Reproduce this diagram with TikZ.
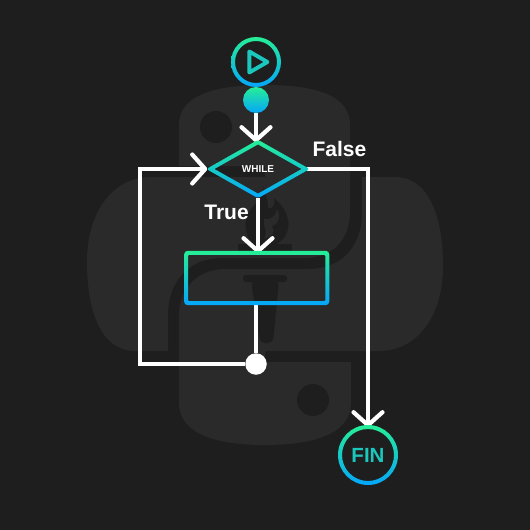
\documentclass[tikz,border=0pt]{standalone}
\usepackage{fontspec}
\setmainfont{Liberation Sans}
\usetikzlibrary{shapes.geometric,arrows.meta}
\definecolor{bgc}{HTML}{1E1E1E}
\definecolor{logoc}{HTML}{2A2A2A}
\definecolor{gtop}{HTML}{26EE96}
\definecolor{gbot}{HTML}{04A6FA}
\definecolor{tealc}{HTML}{1BC6BC}
\tikzset{
  grad/.style={top color=gtop,bottom color=gbot,even odd rule},
  logo/.style={fill=logoc,draw=none},
  hole/.style={fill=bgc,draw=none},
  flow/.style={draw=white,line width=4.2pt,line join=miter},
  arrowed/.style={flow,shorten >=-2.5pt,-{Straight Barb[length=13pt,width=29pt,line width=4.2pt,round]}},
  lab/.style={text=white,font=\fontsize{21}{21}\selectfont\bfseries,inner sep=0pt},
}
\begin{document}
\begin{tikzpicture}[x=1pt,y=-1pt]
\useasboundingbox (0,0) rectangle (530,530);
\fill[bgc] (0,0) rectangle (530,530);
% python logo, upper snake and left blob
\path[logo] (265,177) -- (150,177) .. controls (110,178) and (87,215) .. (87,262)
  .. controls (87,315) and (103,351) .. (135,351) -- (168,351) -- (168,315)
  .. controls (168,282) and (188,258) .. (222,258) -- (305,258)
  .. controls (332,258) and (350,240) .. (350,212) -- (350,125)
  .. controls (350,98) and (322,85) .. (265,85)
  .. controls (208,85) and (179,98) .. (179,125) -- (179,166) -- (265,166) -- cycle;
% lower snake and right blob
\path[logo] (265,351) -- (380,351) .. controls (420,350) and (443,313) .. (443,266)
  .. controls (443,213) and (427,177) .. (395,177) -- (362,177) -- (362,213)
  .. controls (362,246) and (342,269) .. (308,269) -- (225,269)
  .. controls (198,269) and (179,288) .. (179,316) -- (179,403)
  .. controls (179,430) and (208,445) .. (265,445)
  .. controls (322,445) and (351,430) .. (351,403) -- (351,362) -- (265,362) -- cycle;
\fill[hole] (216,127) circle (16);
\fill[hole] (313,400) circle (16);
% torch
\path[hole] (262,185) .. controls (268,195) and (254,203) .. (249,212)
  .. controls (243,222) and (245,236) .. (253,244) -- (277,244)
  .. controls (287,238) and (291,226) .. (287,216)
  .. controls (285,208) and (279,203) .. (274,198)
  .. controls (276,205) and (272,210) .. (268,208)
  .. controls (268,200) and (266,192) .. (262,185) -- cycle;
\path[logo] (277,209) .. controls (281,216) and (279,224) .. (272,226)
  .. controls (276,231) and (272,238) .. (264,238)
  .. controls (269,232) and (262,226) .. (264,219)
  .. controls (270,221) and (276,216) .. (277,209) -- cycle;
\fill[hole] (238,244) rectangle (292,252);
\fill[hole,rounded corners=3pt] (243,275) rectangle (287,282);
\path[hole,rounded corners=5pt] (251,280) -- (279,280) -- (273,343) -- (260,343) -- cycle;
% nodes
\node[circle,minimum size=50pt,inner sep=0pt] (start) at (256,62) {};
\node[circle,minimum size=26pt,inner sep=0pt,top color=gtop,bottom color=gbot] (dot) at (256,100) {};
\node[diamond,minimum width=103pt,minimum height=58pt,inner sep=0pt,text=white,
      font=\fontsize{10}{10}\selectfont\bfseries] (while) at (258,169) {WHILE};
\node[rectangle,minimum width=144.7pt,minimum height=54pt,inner sep=0pt] (box) at (256.7,278) {};
\node[circle,minimum size=21.5pt,inner sep=0pt,fill=white] (join) at (256,364) {};
\node[circle,minimum size=60pt,inner sep=0pt,text=tealc,
      font=\fontsize{20.5}{20.5}\selectfont\bfseries] (fin) at (368,455) {FIN};
\coordinate (loop) at (140.3,169);
\node[lab] (false) at (339.5,149) {False};
\node[lab] (true) at (226.5,212) {True};
% connectors
\draw[arrowed] (dot.south) -- (dot.south |- while.north);
\draw[arrowed] (while.south) -- (while.south |- box.north);
\draw[flow] (join |- box.south) -- (join.north);
\draw[arrowed,shorten >=-1pt] (join.west) -| (loop) -- (while.west);
\draw[arrowed,shorten <=-3pt] (while.east) -| (fin.north);
% gradient outlines
\shade[grad] (start) circle (25) (start) circle (21);
\draw[tealc,line width=3.9pt,line join=round] ([xshift=-6.7pt,yshift=10.5pt]start.center) -- ([xshift=11.4pt]start.center) -- ([xshift=-6.7pt,yshift=-10.5pt]start.center) -- cycle;
\shade[grad] [rounded corners=2.5pt] (while.north) -- (while.east) -- (while.south) -- (while.west) -- cycle
  [sharp corners] ([yshift=-4.6pt]while.north) -- ([xshift=-8.1pt]while.east) -- ([yshift=4.6pt]while.south) -- ([xshift=8.1pt]while.west) -- cycle;
\shade[grad] [rounded corners=3.5pt] (box.south west) rectangle (box.north east)
  [rounded corners=1pt] ([xshift=4pt,yshift=4pt]box.south west) rectangle ([xshift=-4pt,yshift=-4pt]box.north east);
\shade[grad] (fin) circle (30) (fin) circle (26);
\end{tikzpicture}
\end{document}
